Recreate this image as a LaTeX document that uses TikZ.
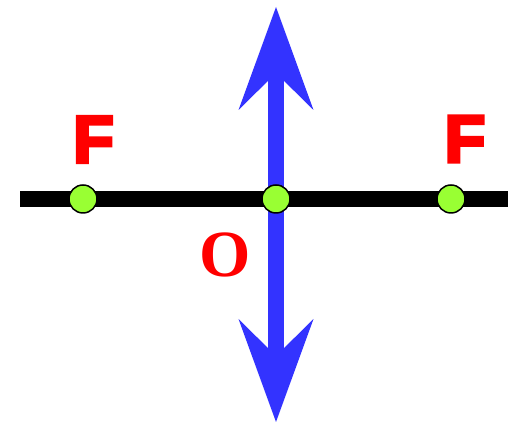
\documentclass[tikz,border=0pt]{standalone}
\usepackage{fontspec}
\usetikzlibrary{arrows.meta,positioning}
\newfontfamily\heavyfont[BoldFeatures={FakeBold=5}]{Liberation Sans}
\newfontfamily\serifbold{Liberation Serif}
\definecolor{lensblue}{HTML}{3333FF}
\definecolor{dotgreen}{HTML}{99FF33}
\definecolor{labelred}{HTML}{FF0000}
\tikzset{
  axisline/.style={line width=16pt, color=black},
  lensarr/.style={{Stealth[length=103pt, width=75pt, inset=37pt, line width=0pt]}-{Stealth[length=103pt, width=75pt, inset=37pt, line width=0pt]},
                  line width=16pt, color=lensblue},
  focusdot/.style={circle, draw=black, line width=1.5pt, fill=dotgreen,
                   minimum size=28pt, inner sep=0pt},
  flabel/.style={text=labelred, font=\heavyfont\bfseries\fontsize{67}{67}\selectfont, inner sep=0pt},
  olabel/.style={text=labelred, font=\serifbold\bfseries\fontsize{66}{66}\selectfont, inner sep=0pt}}
\begin{document}
\begin{tikzpicture}[x=1pt, y=1pt]
  \useasboundingbox (0,0) rectangle (508,422);
  % optical axis and lens
  \coordinate (axl) at (20,223);
  \coordinate (axr) at (508,223);
  \coordinate (lbot) at (276,0);
  \coordinate (ltop) at (276,415);
  \draw[axisline] (axl) -- (axr);
  \draw[lensarr] (lbot) -- (ltop);
  % focal points and centre
  \node[focusdot] (fl) at (83,223) {};
  \node[focusdot] (oc) at (276,223) {};
  \node[focusdot] (fr) at (451,223) {};
  \node[flabel] (flt) at (93.5,282.5) {F};
  \node[flabel] (frt) at (465,283) {F};
  \node[olabel] (oct) at (225.5,167.5) {O};
\end{tikzpicture}
\end{document}
